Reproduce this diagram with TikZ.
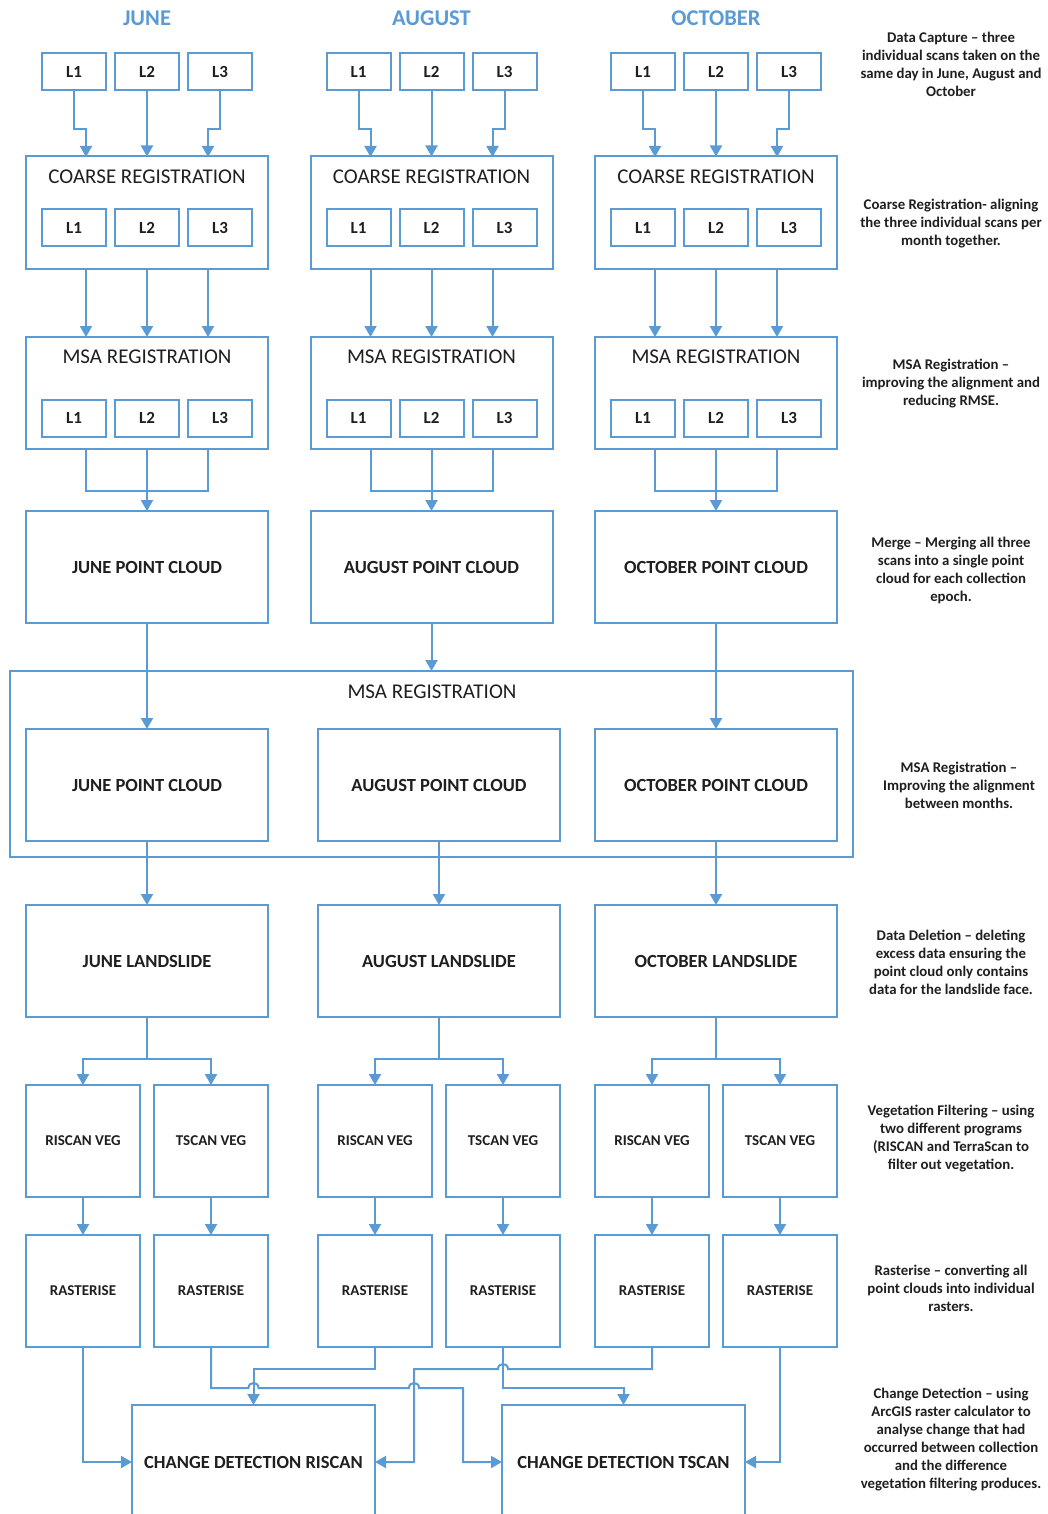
\documentclass[tikz,border=0pt]{standalone}
\usepackage{fontspec}
\setmainfont{Carlito}
\usetikzlibrary{arrows.meta}
\definecolor{lblue}{HTML}{5B9BD5}
\definecolor{txt}{HTML}{1F1F1F}
\begin{document}
\begin{tikzpicture}[x=1pt,y=-1pt,
  box/.style={draw=lblue, line width=2pt, fill=white, inner sep=0pt, outer sep=0pt, text=txt},
  lbox/.style={box, minimum width=64pt, minimum height=37pt, font=\bfseries\fontsize{17}{20}\selectfont},
  regbox/.style={box, minimum width=242pt, minimum height=112pt},
  bigbox/.style={box, minimum width=242pt, minimum height=112pt, font=\bfseries\fontsize{18.5}{22}\selectfont},
  smallbox/.style={box, minimum width=114pt, minimum height=112pt, font=\bfseries\fontsize{15}{18}\selectfont},
  cdbox/.style={box, minimum width=243pt, minimum height=114pt, font=\bfseries\fontsize{18.5}{22}\selectfont},
  boxtitle/.style={font=\fontsize{21}{24}\selectfont, text=txt, inner sep=0pt},
  head/.style={font=\bfseries\fontsize{22.5}{26}\selectfont, text=lblue, inner sep=0pt},
  note/.style={font=\bfseries\fontsize{14.8}{18}\selectfont, align=center, text=txt, inner sep=0pt},
  conn/.style={draw=lblue, line width=2pt},
  arr/.style={conn, -{Triangle[width=12pt,length=11pt]}},
]
\useasboundingbox (0,0) rectangle (1048,1514);
\clip (0,0) rectangle (1048,1514);
\fill[white] (0,0) rectangle (1048,1514);

% ---------- upper part: per month ----------
\foreach \m/\c/\n in {j/147/JUNE, a/431.5/AUGUST, o/716/OCTOBER}{
  \node[head] (\m h) at (\c,18) {\n};
  \node[lbox] (\m t1) at (\c-73,71.5) {L1};
  \node[lbox] (\m t2) at (\c,71.5) {L2};
  \node[lbox] (\m t3) at (\c+73,71.5) {L3};
  % coarse
  \node[regbox] (\m c) at (\c,212.5) {};
  \node[boxtitle] (\m ct) at (\c,177) {COARSE REGISTRATION};
  \node[lbox] (\m c1) at (\c-73,228) {L1};
  \node[lbox] (\m c2) at (\c,228) {L2};
  \node[lbox] (\m c3) at (\c+73,228) {L3};
  \coordinate (\m k1) at (\c-61,157);
  \coordinate (\m k3) at (\c+61,157);
  % msa
  \node[regbox] (\m m) at (\c,393) {};
  \node[boxtitle] (\m mt) at (\c,357) {MSA REGISTRATION};
  \node[lbox] (\m m1) at (\c-73,418) {L1};
  \node[lbox] (\m m2) at (\c,418) {L2};
  \node[lbox] (\m m3) at (\c+73,418) {L3};
  % point cloud
  \node[bigbox] (\m p) at (\c,567) {\n\ POINT CLOUD};
  % connectors
  \draw[arr] (\m t1.south) -- ++(0,39.5) -| (\m k1);
  \draw[arr] (\m t2.south) -- (\m c.north);
  \draw[arr] (\m t3.south) -- ++(0,39.5) -| (\m k3);
  \draw[arr] ([xshift=-61pt]\m c.south) -- ([xshift=-61pt]\m m.north);
  \draw[arr] (\m c.south) -- (\m m.north);
  \draw[arr] ([xshift=61pt]\m c.south) -- ([xshift=61pt]\m m.north);
  \draw[conn] ([xshift=-61pt]\m m.south) -- ++(0,42) -| ([xshift=61pt]\m m.south);
  \draw[arr] (\m m.south) -- (\m p.north);
}

% ---------- global MSA registration ----------
\node[box, minimum width=843pt, minimum height=186pt] (big) at (431.5,764) {};
\node[boxtitle] (bigt) at (432,692) {MSA REGISTRATION};

\foreach \m/\c/\n in {j/147/JUNE, a/439/AUGUST, o/716/OCTOBER}{
  \node[bigbox] (\m q) at (\c,785) {\n\ POINT CLOUD};
  \node[bigbox] (\m l) at (\c,961) {\n\ LANDSLIDE};
  \node[smallbox] (\m vegr) at (\c-64,1141) {RISCAN VEG};
  \node[smallbox] (\m vegt) at (\c+64,1141) {TSCAN VEG};
  \node[smallbox] (\m rasr) at (\c-64,1291) {RASTERISE};
  \node[smallbox] (\m rast) at (\c+64,1291) {RASTERISE};
  \draw[arr] (\m q.south) -- (\m l.north);
  \draw[arr] (\m l.south) -- ++(0,42) -| (\m vegr.north);
  \draw[arr] (\m l.south) -- ++(0,42) -| (\m vegt.north);
  \draw[arr] (\m vegr.south) -- (\m rasr.north);
  \draw[arr] (\m vegt.south) -- (\m rast.north);
}

\draw[arr] (jp.south) -- (jq.north);
\draw[arr] (ap.south) -- (big.north -| ap.south);
\draw[arr] (op.south) -- (oq.north);

% ---------- change detection ----------
\node[cdbox] (cdr) at (253.5,1462) {CHANGE DETECTION RISCAN};
\node[cdbox] (cdt) at (623.5,1462) {CHANGE DETECTION TSCAN};

\draw[arr] (jrasr.south) |- (cdr.west);
\draw[arr] (arasr.south) -- ++(0,22) -| (cdr.north);
\draw[arr] (jrast.south) -- (211,1388) -- (248.5,1388)
   .. controls (248.5,1381.3) and (258.5,1381.3) .. (258.5,1388) -- (409,1388)
   .. controls (409,1381.3) and (419,1381.3) .. (419,1388) -- (463,1388) |- (cdt.west);
\draw[arr] (arast.south) -- ++(0,41) -| (cdt.north);
\draw[arr] (orasr.south) -- (652,1369) -- (508,1369)
   .. controls (508,1362.3) and (498,1362.3) .. (498,1369) -- (414,1369) |- (cdr.east);
\draw[arr] (orast.south) |- (cdt.east);

% ---------- notes ----------
\node[note] (n1) at (951,64) {Data Capture -- three\\individual scans taken on the\\same day in June, August and\\October};
\node[note] (n2) at (951,224) {Coarse Registration- aligning\\the three individual scans per\\month together.};
\node[note] (n3) at (951,384) {MSA Registration --\\improving the alignment and\\reducing RMSE.};
\node[note] (n4) at (951,570) {Merge -- Merging all three\\scans into a single point\\cloud for each collection\\epoch.};
\node[note] (n5) at (959,785) {MSA Registration --\\Improving the alignment\\between months.};
\node[note] (n6) at (951,962) {Data Deletion -- deleting\\excess data ensuring the\\point cloud only contains\\data for the landslide face.};
\node[note] (n7) at (951,1139) {Vegetation Filtering -- using\\two different programs\\(RISCAN and TerraScan to\\filter out vegetation.};
\node[note] (n8) at (951,1288) {Rasterise -- converting all\\point clouds into individual\\rasters.};
\node[note] (n9) at (951,1440) {Change Detection -- using\\ArcGIS raster calculator to\\analyse change that had\\occurred between collection\\and the difference\\vegetation filtering produces.};
\end{tikzpicture}
\end{document}
